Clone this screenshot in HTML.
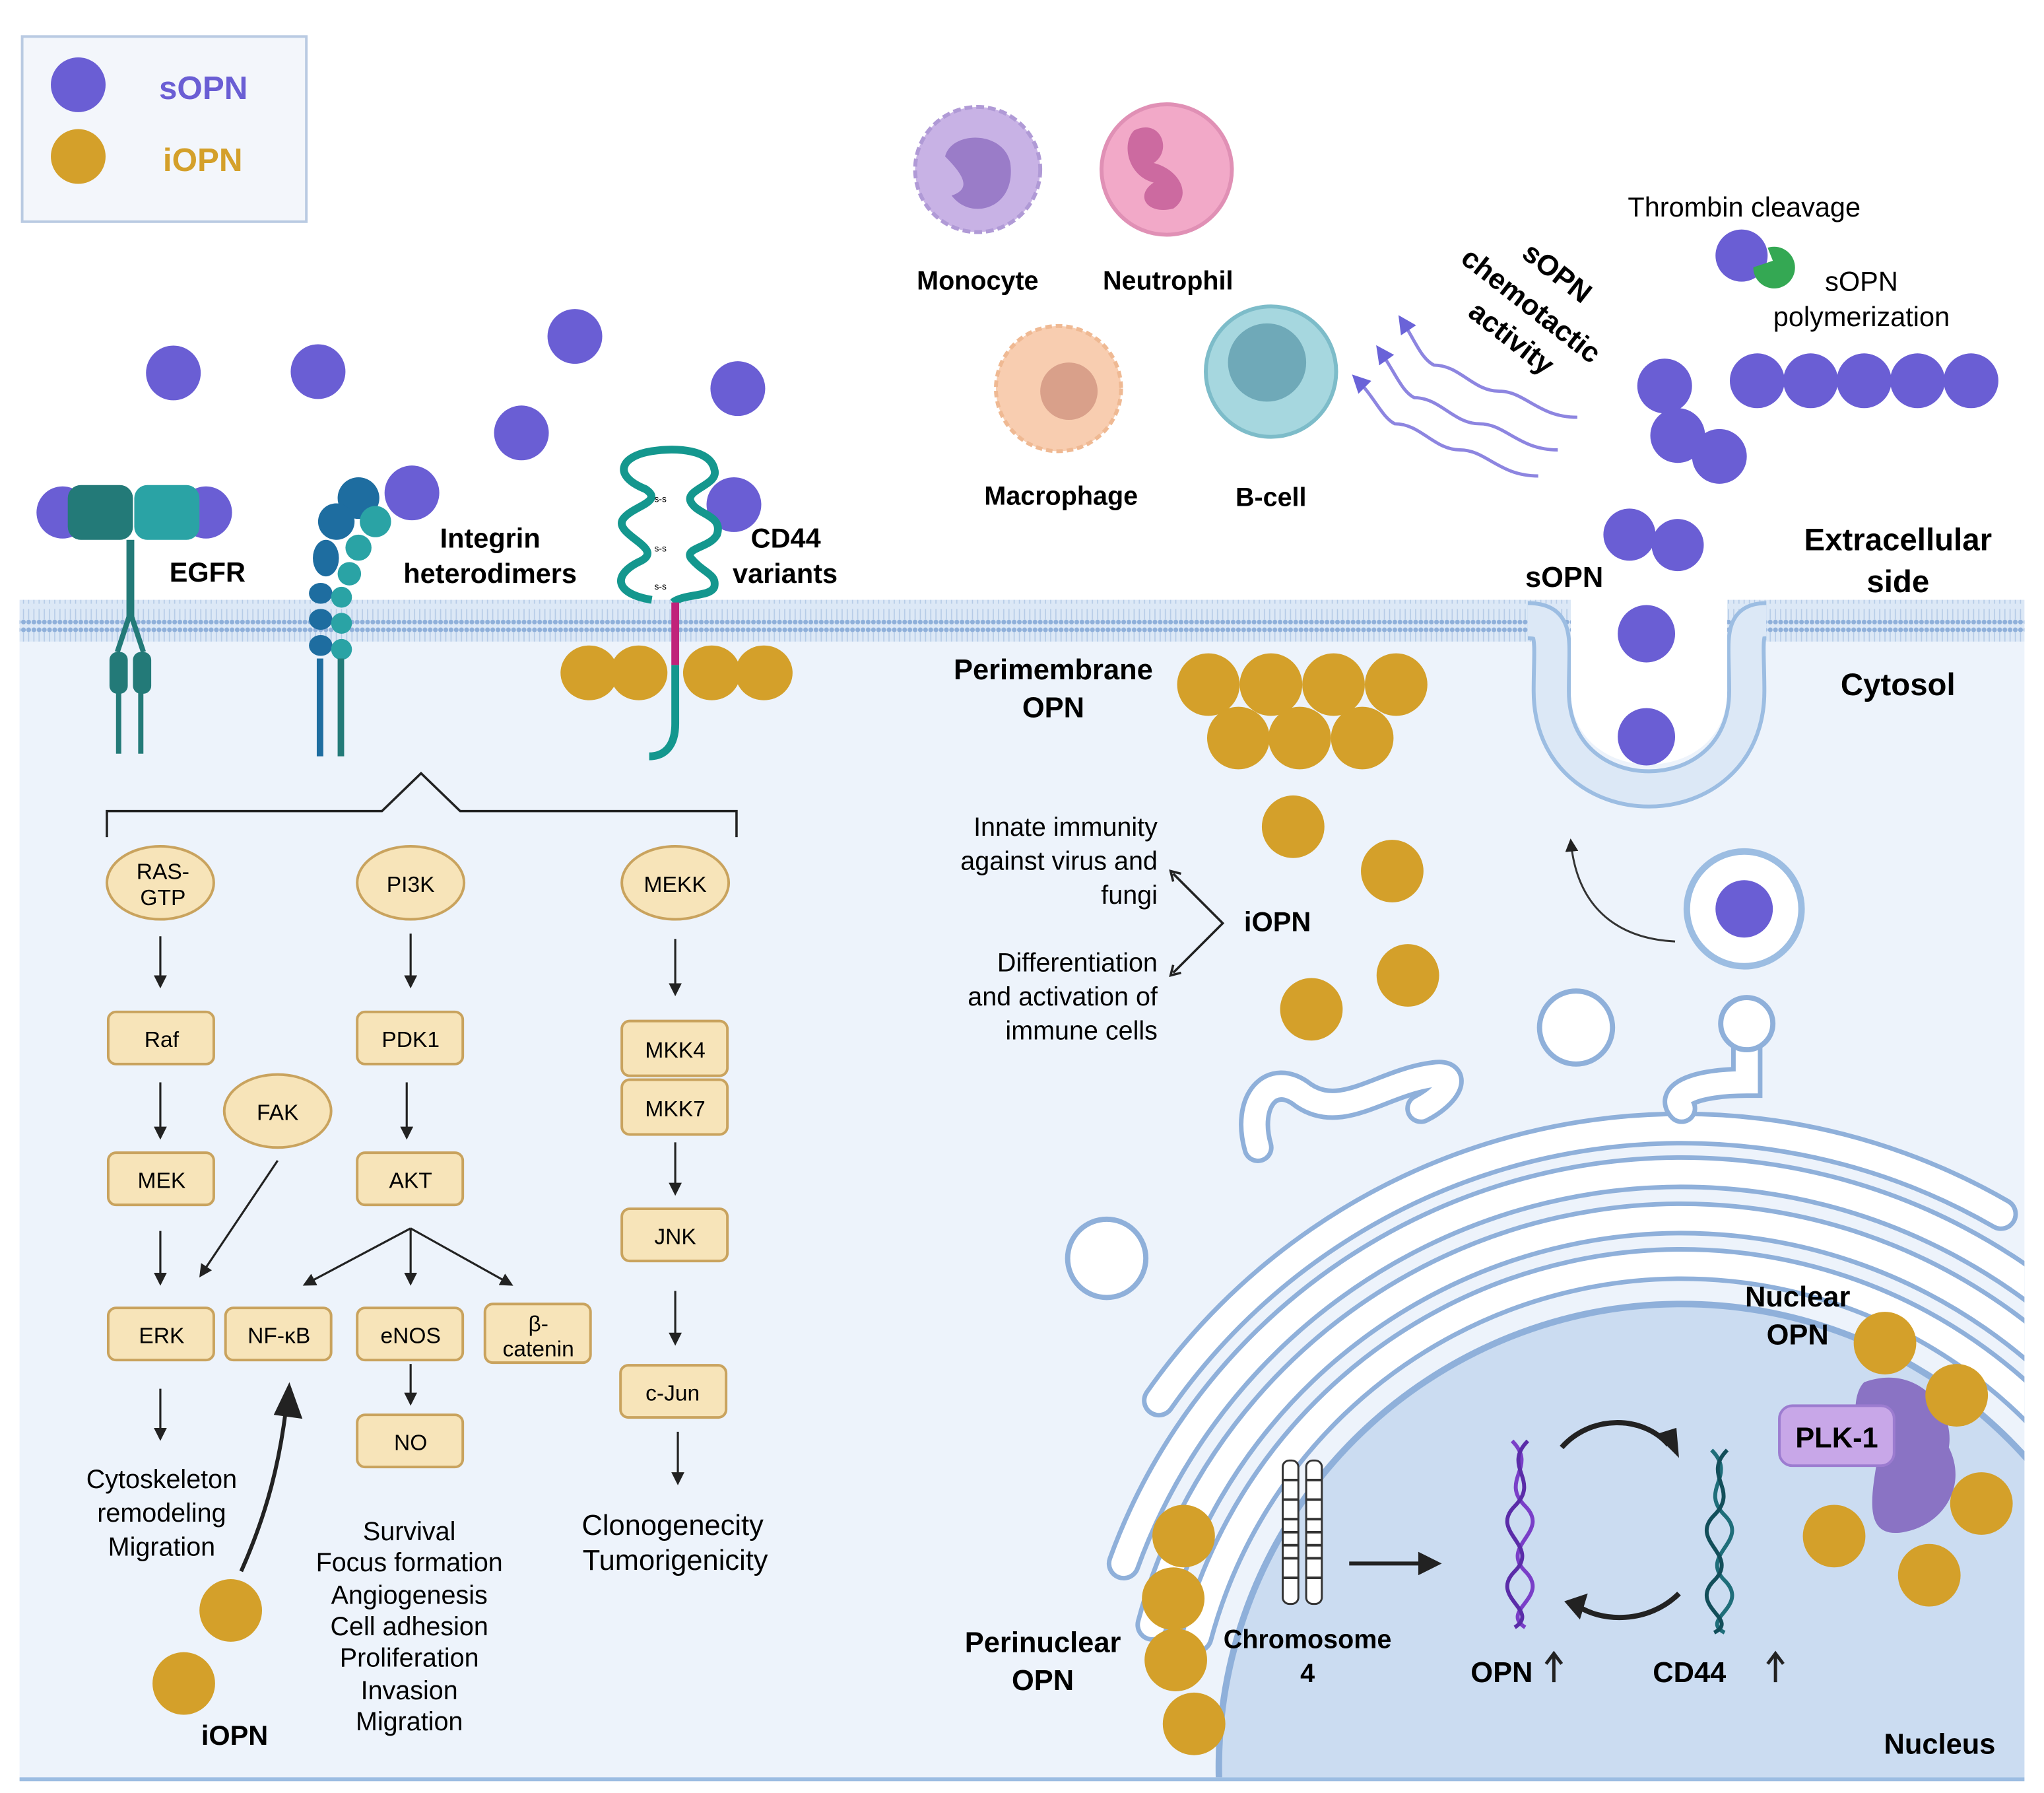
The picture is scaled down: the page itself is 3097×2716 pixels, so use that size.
<!DOCTYPE html>
<html><head><meta charset="utf-8"><style>
html,body{margin:0;padding:0;background:#fff;overflow:hidden;width:3097px;height:2716px}
svg{display:block}
text{font-family:"Liberation Sans",sans-serif}
.b{font-weight:bold}
</style></head><body>
<svg width="3097" height="2716" viewBox="0 0 1568 1375" preserveAspectRatio="none" xmlns="http://www.w3.org/2000/svg">
<defs>
<marker id="ar" markerWidth="10" markerHeight="10" refX="8" refY="5" orient="auto" markerUnits="userSpaceOnUse"><path d="M0,0 L10,5 L0,10 z" fill="#222"/></marker>
<marker id="arp" markerWidth="14" markerHeight="14" refX="10" refY="7" orient="auto" markerUnits="userSpaceOnUse"><path d="M0,0 L14,7 L0,14 z" fill="#6a63d8"/></marker>
<pattern id="mem" width="4" height="30" patternUnits="userSpaceOnUse"><rect width="4" height="30" fill="#dce8f6"/><circle cx="2" cy="3" r="1.8" fill="#8fb0da"/><circle cx="2" cy="27" r="1.8" fill="#8fb0da"/><line x1="2" y1="5" x2="2" y2="13" stroke="#b4cae6" stroke-width="0.8"/><line x1="2" y1="17" x2="2" y2="25" stroke="#b4cae6" stroke-width="0.8"/></pattern>
<clipPath id="cyto"><rect x="15" y="492" width="1538" height="871"/></clipPath>
</defs>

<rect x="15" y="476" width="1538" height="889" fill="#edf3fb"/>
<rect x="15" y="460" width="1538" height="32" fill="url(#mem)"/>

<!-- legend -->
<rect x="17" y="28" width="218" height="142" fill="#f3f6fb" stroke="#b9cae2" stroke-width="2"/>
<circle cx="60" cy="65" r="21" fill="#6a5ed4"/>
<circle cx="60" cy="120" r="21" fill="#d4a02a"/>
<text x="122" y="76" font-size="25" class="b" fill="#6a5ed4">sOPN</text>
<text x="125" y="131" font-size="25" class="b" fill="#d4a02a">iOPN</text>

<g fill="#6a5ed4">
<circle cx="133" cy="286" r="21"/><circle cx="244" cy="285" r="21"/><circle cx="441" cy="258" r="21"/>
<circle cx="400" cy="332" r="21"/><circle cx="566" cy="298" r="21"/><circle cx="316" cy="378" r="21"/>
<circle cx="563" cy="387" r="21"/>
<circle cx="48" cy="393" r="20"/><circle cx="158" cy="393" r="20"/>
</g>

<!-- EGFR -->
<g fill="#237a78">
<rect x="52" y="372" width="50" height="42" rx="10"/>
<rect x="103" y="372" width="50" height="42" rx="10" fill="#2aa3a5"/>
<rect x="97" y="414" width="6" height="60"/>
<rect x="84" y="500" width="14" height="32" rx="6"/><rect x="102" y="500" width="14" height="32" rx="6"/>
<rect x="89" y="530" width="4" height="48"/><rect x="106" y="530" width="4" height="48"/>
</g>
<path d="M100,470 L90,500 M100,470 L110,500" stroke="#237a78" stroke-width="4" fill="none"/>
<text x="130" y="446" font-size="21" class="b">EGFR</text>

<!-- Integrin -->
<g fill="#1e6da0">
<circle cx="275" cy="382" r="16"/><circle cx="258" cy="400" r="14"/><ellipse cx="250" cy="428" rx="10" ry="14"/>
<ellipse cx="246" cy="455" rx="9" ry="8"/><ellipse cx="246" cy="475" rx="9" ry="8"/><ellipse cx="246" cy="495" rx="9" ry="8"/>
<rect x="243" y="505" width="5" height="75"/>
</g>
<g fill="#2aa3a5">
<circle cx="288" cy="400" r="12"/><circle cx="275" cy="420" r="10"/><circle cx="268" cy="440" r="9"/>
<circle cx="262" cy="458" r="8"/><circle cx="262" cy="478" r="8"/><circle cx="262" cy="498" r="8"/>
<rect x="259" y="505" width="5" height="75" fill="#237a78"/>
</g>
<text x="376" y="420" font-size="21" class="b" text-anchor="middle">Integrin</text>
<text x="376" y="447" font-size="21" class="b" text-anchor="middle">heterodimers</text>

<!-- CD44 -->
<path d="M500,460 C470,455 470,440 492,430 C510,420 470,410 478,398 C485,388 510,385 495,375 C470,365 475,350 500,346 C520,343 545,345 548,360 C552,372 525,375 530,385 C535,395 555,395 550,410 C545,420 525,420 530,428 C540,440 550,440 548,450 C545,458 525,455 516,462" stroke="#14978e" stroke-width="6" fill="none"/>
<text x="502" y="385" font-size="7">s-s</text><text x="502" y="423" font-size="7">s-s</text><text x="502" y="452" font-size="7">s-s</text>
<line x1="518" y1="462" x2="518" y2="510" stroke="#c0237a" stroke-width="6"/>
<path d="M518,510 L518,555 C518,572 510,580 498,580" stroke="#14978e" stroke-width="6" fill="none"/>
<text x="576" y="420" font-size="21" class="b">CD44</text>
<text x="562" y="447" font-size="21" class="b">variants</text>
<g fill="#d4a02a"><ellipse cx="452" cy="516" rx="22" ry="21"/><ellipse cx="490" cy="516" rx="22" ry="21"/><ellipse cx="546" cy="516" rx="22" ry="21"/><ellipse cx="586" cy="516" rx="22" ry="21"/></g>

<path d="M82,642 L82,622 L293,622 L323,593 L353,622 L565,622 L565,642" stroke="#222" stroke-width="1.8" fill="none"/>

<g fill="#f7e4b9" stroke="#c9a35e" stroke-width="2">
<ellipse cx="123" cy="677" rx="41" ry="28"/><ellipse cx="315" cy="677" rx="41" ry="28"/><ellipse cx="518" cy="677" rx="41" ry="28"/><ellipse cx="213" cy="852" rx="41" ry="28"/>
<rect x="83" y="776" width="81" height="40" rx="6"/><rect x="274" y="776" width="81" height="40" rx="6"/>
<rect x="83" y="884" width="81" height="40" rx="6"/><rect x="274" y="884" width="81" height="40" rx="6"/>
<rect x="477" y="783" width="81" height="42" rx="6"/><rect x="477" y="828" width="81" height="42" rx="6"/>
<rect x="477" y="927" width="81" height="40" rx="6"/>
<rect x="83" y="1003" width="81" height="40" rx="6"/><rect x="173" y="1003" width="81" height="40" rx="6"/>
<rect x="274" y="1003" width="81" height="40" rx="6"/><rect x="372" y="1000" width="81" height="45" rx="6"/>
<rect x="274" y="1085" width="81" height="40" rx="6"/><rect x="476" y="1047" width="81" height="40" rx="6"/>
</g>
<g font-size="17" text-anchor="middle">
<text x="125" y="674">RAS-</text><text x="125" y="694">GTP</text>
<text x="315" y="684">PI3K</text><text x="518" y="684">MEKK</text><text x="213" y="859">FAK</text>
<text x="124" y="803">Raf</text><text x="315" y="803">PDK1</text>
<text x="124" y="911">MEK</text><text x="315" y="911">AKT</text>
<text x="518" y="811">MKK4</text><text x="518" y="856">MKK7</text><text x="518" y="954">JNK</text>
<text x="124" y="1030">ERK</text><text x="214" y="1030">NF-κB</text><text x="315" y="1030">eNOS</text>
<text x="413" y="1021">β-</text><text x="413" y="1040">catenin</text>
<text x="315" y="1112">NO</text><text x="516" y="1074">c-Jun</text>
</g>
<g stroke="#222" stroke-width="1.6" marker-end="url(#ar)">
<line x1="123" y1="718" x2="123" y2="756"/><line x1="315" y1="716" x2="315" y2="756"/><line x1="518" y1="720" x2="518" y2="762"/>
<line x1="123" y1="830" x2="123" y2="872"/><line x1="312" y1="830" x2="312" y2="872"/>
<line x1="123" y1="944" x2="123" y2="984"/><line x1="213" y1="890" x2="154" y2="978"/>
<line x1="518" y1="876" x2="518" y2="915"/><line x1="518" y1="990" x2="518" y2="1030"/>
<line x1="315" y1="942" x2="315" y2="984"/><line x1="315" y1="942" x2="234" y2="985"/><line x1="315" y1="942" x2="392" y2="985"/>
<line x1="315" y1="1046" x2="315" y2="1076"/><line x1="123" y1="1065" x2="123" y2="1103"/><line x1="520" y1="1098" x2="520" y2="1137"/>
</g>
<path d="M185,1205 C205,1160 215,1120 220,1075" stroke="#222" stroke-width="3" fill="none"/>
<path d="M210,1085 L222,1060 L232,1088 z" fill="#222"/>
<g font-size="20" text-anchor="middle">
<text x="124" y="1141">Cytoskeleton</text><text x="124" y="1167">remodeling</text><text x="124" y="1193">Migration</text>
<text x="314" y="1181">Survival</text><text x="314" y="1205">Focus formation</text><text x="314" y="1230">Angiogenesis</text>
<text x="314" y="1254">Cell adhesion</text><text x="314" y="1278">Proliferation</text><text x="314" y="1303">Invasion</text><text x="314" y="1327">Migration</text>
</g>
<text x="516" y="1177" font-size="22" text-anchor="middle">Clonogenecity</text>
<text x="518" y="1204" font-size="22" text-anchor="middle">Tumorigenicity</text>
<circle cx="177" cy="1235" r="24" fill="#d4a02a"/><circle cx="141" cy="1291" r="24" fill="#d4a02a"/>
<text x="180" y="1338" font-size="21" class="b" text-anchor="middle">iOPN</text>

<!-- immune cells -->
<circle cx="750" cy="130" r="48" fill="#c8b2e5" stroke="#b09ad6" stroke-width="3" stroke-dasharray="6 3"/>
<path d="M725,120 C730,100 770,100 775,125 C780,160 745,170 730,150 C745,145 740,135 725,120z" fill="#9a7cc8"/>
<circle cx="895" cy="130" r="50" fill="#f2a9c8" stroke="#e090b5" stroke-width="3"/>
<path d="M870,100 C890,90 900,115 885,125 C905,130 915,150 900,160 C880,165 870,150 885,140 C865,135 860,110 870,100z" fill="#cc6aa0"/>
<circle cx="812" cy="298" r="48" fill="#f8cdb0" stroke="#efb993" stroke-width="3" stroke-dasharray="5 3"/>
<circle cx="820" cy="300" r="22" fill="#d9a08a"/>
<circle cx="975" cy="285" r="50" fill="#a6d7df" stroke="#7dbcc9" stroke-width="3"/>
<circle cx="972" cy="278" r="30" fill="#6fa9b8"/>
<g font-size="20" class="b" text-anchor="middle">
<text x="750" y="222">Monocyte</text><text x="896" y="222">Neutrophil</text><text x="814" y="387">Macrophage</text><text x="975" y="388">B-cell</text>
</g>
<g stroke="#8d85e0" stroke-width="2.5" fill="none" marker-end="url(#arp)">
<path d="M1210,320 C1180,320 1170,300 1150,300 C1130,300 1120,280 1100,280 C1090,275 1085,260 1075,245"/>
<path d="M1195,345 C1165,345 1155,325 1135,325 C1115,325 1105,305 1085,305 C1075,300 1070,285 1058,268"/>
<path d="M1180,365 C1150,365 1140,345 1120,345 C1100,345 1090,325 1070,325 C1060,320 1055,305 1040,290"/>
</g>
<g font-size="22" class="b" text-anchor="middle">
<text transform="translate(1190,215) rotate(38)">sOPN</text>
<text transform="translate(1170,240) rotate(38)">chemotactic</text>
<text transform="translate(1155,265) rotate(38)">activity</text>
</g>

<text x="1338" y="166" font-size="21" text-anchor="middle">Thrombin cleavage</text>
<circle cx="1336" cy="196" r="20" fill="#6a5ed4"/>
<path d="M1356,190 A16,16 0 1 1 1345,205 L1360,200 z" fill="#34a853"/>
<text x="1428" y="223" font-size="21" text-anchor="middle">sOPN</text>
<text x="1428" y="250" font-size="21" text-anchor="middle">polymerization</text>
<g fill="#6a5ed4">
<circle cx="1348" cy="292" r="21"/><circle cx="1389" cy="292" r="21"/><circle cx="1430" cy="292" r="21"/><circle cx="1471" cy="292" r="21"/><circle cx="1512" cy="292" r="21"/>
<circle cx="1277" cy="296" r="21"/><circle cx="1287" cy="334" r="21"/><circle cx="1319" cy="350" r="21"/>
<circle cx="1250" cy="410" r="20"/><circle cx="1287" cy="418" r="20"/>
</g>
<text x="1200" y="450" font-size="22" class="b" text-anchor="middle">sOPN</text>
<text x="1456" y="422" font-size="24" class="b" text-anchor="middle">Extracellular</text>
<text x="1456" y="454" font-size="24" class="b" text-anchor="middle">side</text>
<text x="1456" y="533" font-size="24" class="b" text-anchor="middle">Cytosol</text>

<!-- invagination -->
<rect x="1205" y="458" width="120" height="40" fill="#fff"/>
<path d="M1172,476 C1195,476 1190,490 1190,530 C1190,630 1340,630 1340,530 C1340,490 1335,476 1355,476" stroke="#9cbde2" stroke-width="30" fill="none"/>
<path d="M1172,476 C1195,476 1190,490 1190,530 C1190,630 1340,630 1340,530 C1340,490 1335,476 1355,476" stroke="#dce8f6" stroke-width="24" fill="none"/>
<path d="M1205,458 L1205,530 C1205,605 1325,605 1325,530 L1325,458 z" fill="#fff"/>
<circle cx="1263" cy="486" r="22" fill="#6a5ed4"/><circle cx="1263" cy="565" r="22" fill="#6a5ed4"/>
<circle cx="1338" cy="697" r="44" fill="#fff" stroke="#9cbde2" stroke-width="5"/>
<circle cx="1338" cy="697" r="22" fill="#6a5ed4"/>
<path d="M1285,722 C1245,720 1210,700 1205,645" stroke="#333" stroke-width="1.5" fill="none" marker-end="url(#ar)"/>

<text x="808" y="521" font-size="22" class="b" text-anchor="middle">Perimembrane</text>
<text x="808" y="550" font-size="22" class="b" text-anchor="middle">OPN</text>
<g fill="#d4a02a">
<circle cx="927" cy="525" r="24"/><circle cx="975" cy="525" r="24"/><circle cx="1023" cy="525" r="24"/><circle cx="1071" cy="525" r="24"/>
<circle cx="950" cy="566" r="24"/><circle cx="997" cy="566" r="24"/><circle cx="1045" cy="566" r="24"/>
<circle cx="992" cy="634" r="24"/><circle cx="1068" cy="668" r="24"/><circle cx="1080" cy="748" r="24"/><circle cx="1006" cy="774" r="24"/>
</g>
<g font-size="20" text-anchor="end">
<text x="888" y="641">Innate immunity</text><text x="888" y="667">against virus and</text><text x="888" y="693">fungi</text>
<text x="888" y="745">Differentiation</text><text x="888" y="771">and activation of</text><text x="888" y="797">immune cells</text>
</g>
<path d="M900,670 L938,708 L900,746" stroke="#222" stroke-width="1.8" fill="none"/>
<path d="M906,670 L898,668 L900,676 M906,746 L898,748 L900,740" stroke="#222" stroke-width="1.8" fill="none"/>
<text x="980" y="714" font-size="21" class="b" text-anchor="middle">iOPN</text>

<!-- nucleus + ER -->
<g clip-path="url(#cyto)">
<circle cx="1290" cy="1355" r="355" fill="#cbdcf1" stroke="#8fb0da" stroke-width="5"/>
<g fill="none" stroke-linecap="round">
<path d="M918,1255 A385,385 0 0 1 1585,1107" stroke="#8fb0da" stroke-width="26"/>
<path d="M918,1255 A385,385 0 0 1 1585,1107" stroke="#fff" stroke-width="19"/>
<path d="M884,1246 A420,420 0 0 1 1612,1085" stroke="#8fb0da" stroke-width="26"/>
<path d="M884,1246 A420,420 0 0 1 1612,1085" stroke="#fff" stroke-width="19"/>
<path d="M862,1199 A455,455 0 0 1 1583,1006" stroke="#8fb0da" stroke-width="26"/>
<path d="M862,1199 A455,455 0 0 1 1583,1006" stroke="#fff" stroke-width="19"/>
<path d="M889,1074 A490,490 0 0 1 1535,931" stroke="#8fb0da" stroke-width="26"/>
<path d="M889,1074 A490,490 0 0 1 1535,931" stroke="#fff" stroke-width="19"/>
<!-- upper blebs -->
<path d="M965,880 C955,845 975,820 1000,840 C1030,860 1060,830 1100,825 C1120,822 1110,840 1090,850" stroke="#8fb0da" stroke-width="24"/>
<path d="M965,880 C955,845 975,820 1000,840 C1030,860 1060,830 1100,825 C1120,822 1110,840 1090,850" stroke="#fff" stroke-width="17"/>
<path d="M1290,850 C1280,840 1300,830 1340,830 L1340,800" stroke="#8fb0da" stroke-width="24"/>
<path d="M1290,850 C1280,840 1300,830 1340,830 L1340,800" stroke="#fff" stroke-width="17"/>
</g>
<circle cx="1340" cy="785" r="20" fill="#fff" stroke="#8fb0da" stroke-width="4"/>
<circle cx="1209" cy="788" r="28" fill="#fff" stroke="#8fb0da" stroke-width="4"/>
<circle cx="849" cy="965" rx="30" r="30" fill="#fff" stroke="#8fb0da" stroke-width="4"/>
</g>
<rect x="15" y="1363" width="1538" height="3" fill="#9cbde2"/>

<text x="1379" y="1002" font-size="22" class="b" text-anchor="middle">Nuclear</text>
<text x="1379" y="1031" font-size="22" class="b" text-anchor="middle">OPN</text>
<path d="M1430,1060 C1470,1045 1500,1080 1495,1110 C1510,1140 1490,1170 1460,1175 C1430,1180 1435,1150 1440,1120 C1420,1100 1420,1070 1430,1060z" fill="#8a73c4"/>
<rect x="1365" y="1078" width="88" height="46" rx="10" fill="#c8a7e8" stroke="#9c7cd0" stroke-width="2"/>
<text x="1409" y="1110" font-size="22" class="b" text-anchor="middle">PLK-1</text>
<g fill="#d4a02a">
<circle cx="1446" cy="1030" r="24"/><circle cx="1501" cy="1070" r="24"/><circle cx="1520" cy="1153" r="24"/><circle cx="1407" cy="1178" r="24"/><circle cx="1480" cy="1208" r="24"/>
<circle cx="908" cy="1178" r="24"/><circle cx="900" cy="1226" r="24"/><circle cx="902" cy="1273" r="24"/><circle cx="916" cy="1322" r="24"/>
</g>
<text x="800" y="1267" font-size="22" class="b" text-anchor="middle">Perinuclear</text>
<text x="800" y="1296" font-size="22" class="b" text-anchor="middle">OPN</text>
<g fill="#fff" stroke="#333" stroke-width="1.5">
<rect x="984" y="1120" width="12" height="110" rx="5"/><rect x="1002" y="1120" width="12" height="110" rx="5"/>
</g>
<g stroke="#333" stroke-width="2">
<line x1="984" y1="1135" x2="996" y2="1135"/><line x1="984" y1="1150" x2="996" y2="1150"/><line x1="984" y1="1165" x2="996" y2="1165"/><line x1="984" y1="1175" x2="996" y2="1175"/><line x1="984" y1="1185" x2="996" y2="1185"/><line x1="984" y1="1195" x2="996" y2="1195"/><line x1="984" y1="1210" x2="996" y2="1210"/>
<line x1="1002" y1="1135" x2="1014" y2="1135"/><line x1="1002" y1="1150" x2="1014" y2="1150"/><line x1="1002" y1="1165" x2="1014" y2="1165"/><line x1="1002" y1="1175" x2="1014" y2="1175"/><line x1="1002" y1="1185" x2="1014" y2="1185"/><line x1="1002" y1="1195" x2="1014" y2="1195"/><line x1="1002" y1="1210" x2="1014" y2="1210"/>
</g>
<text x="1003" y="1264" font-size="20" class="b" text-anchor="middle">Chromosome</text>
<text x="1003" y="1290" font-size="20" class="b" text-anchor="middle">4</text>
<line x1="1035" y1="1199" x2="1090" y2="1199" stroke="#222" stroke-width="3"/>
<path d="M1088,1190 L1106,1199 L1088,1208z" fill="#222"/>
<path d="M1160,1105 C1180,1125 1150,1135 1170,1155 C1190,1175 1150,1185 1170,1205 C1190,1225 1150,1235 1170,1248" stroke="#7a3fc8" stroke-width="3" fill="none"/>
<path d="M1172,1105 C1152,1125 1182,1135 1162,1155 C1142,1175 1182,1185 1162,1205 C1142,1225 1182,1235 1162,1248" stroke="#5a2ca8" stroke-width="3" fill="none"/>
<path d="M1313,1112 C1333,1132 1303,1142 1323,1162 C1343,1182 1303,1192 1323,1212 C1343,1232 1303,1242 1323,1252" stroke="#1f6e7a" stroke-width="3" fill="none"/>
<path d="M1325,1112 C1305,1132 1335,1142 1315,1162 C1295,1182 1335,1192 1315,1212 C1295,1232 1335,1242 1315,1252" stroke="#124e5a" stroke-width="3" fill="none"/>
<path d="M1198,1110 C1220,1085 1260,1085 1280,1108" stroke="#222" stroke-width="4" fill="none"/>
<path d="M1270,1100 L1288,1118 L1286,1095z" fill="#222"/>
<path d="M1288,1222 C1265,1245 1228,1245 1208,1230" stroke="#222" stroke-width="4" fill="none"/>
<path d="M1218,1222 L1200,1228 L1212,1242z" fill="#222"/>
<text x="1152" y="1290" font-size="22" class="b" text-anchor="middle">OPN</text>
<text x="1296" y="1290" font-size="22" class="b" text-anchor="middle">CD44</text>
<g stroke="#222" stroke-width="2.5" fill="none">
<path d="M1192,1290 L1192,1270 M1186,1276 L1192,1268 L1198,1276"/>
<path d="M1362,1290 L1362,1270 M1356,1276 L1362,1268 L1368,1276"/>
</g>
<text x="1488" y="1345" font-size="22" class="b" text-anchor="middle">Nucleus</text>
</svg>
</body></html>
